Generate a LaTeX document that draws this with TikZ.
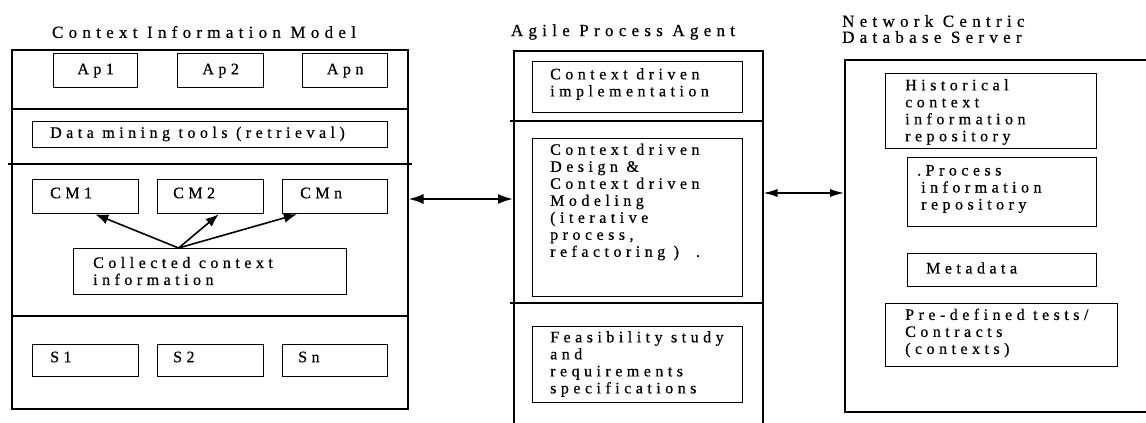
\documentclass[tikz,border=0pt]{standalone}
\usepackage{fontspec}
\setmainfont{Liberation Serif}[LetterSpace=28, FakeBold=0.6]
\newfontfamily\headfont{Liberation Serif}[LetterSpace=31, FakeBold=0.6]
\usetikzlibrary{arrows.meta,calc}

\tikzset{
  panel/.style={draw, line width=1.5pt, inner sep=0pt, anchor=north west},
  cell/.style={draw, line width=1.3pt, inner sep=0pt, anchor=north west},
  txt/.style={anchor=west, align=left, inner sep=0pt, font=\fontsize{16}{17}\selectfont},
  ctxt/.style={anchor=center, inner sep=0pt, font=\fontsize{16}{17}\selectfont},
  ttl/.style={inner sep=0pt, align=left, font=\headfont\fontsize{17}{16}\selectfont},
  divider/.style={line width=1.3pt},
  bigarrow/.style={line width=2pt, {Latex[length=15pt,width=10pt]}-{Latex[length=15pt,width=10pt]}},
  smallarrow/.style={line width=1.2pt, {Latex[length=14pt,width=8pt]}-{Latex[length=14pt,width=8pt]}},
  feed/.style={line width=1.6pt, -{Latex[length=13pt,width=10pt]}},
}

\begin{document}
\begin{tikzpicture}[x=1pt, y=-1pt]
\useasboundingbox (0,0) rectangle (1146,423);

% ---------- titles ----------
\node[ttl, anchor=center] (t1) at (204,32) {Context Information Model};
\node[ttl, anchor=center] (t2) at (623,32) {Agile Process Agent};
\node[ttl, anchor=west] (t3) at (842,29) {Network Centric\\Database Server};

% ---------- Context Information Model ----------
\node[panel, minimum width=396pt, minimum height=359pt] (cim) at (11,49) {};
\coordinate (d1) at (0,109);
\coordinate (d2) at (0,164);
\coordinate (d3) at (0,316);
\draw[divider] (cim.west |- d1) -- (cim.east |- d1);
\draw[divider] ([xshift=-3pt]cim.west |- d2) -- ([xshift=3pt]cim.east |- d2);
\draw[divider] (cim.west |- d3) -- (cim.east |- d3);

\node[cell, minimum width=84pt, minimum height=34pt] (ap1) at (53,53) {};
\node[cell, minimum width=86pt, minimum height=34pt] (ap2) at (177,53) {};
\node[cell, minimum width=85pt, minimum height=34pt] (apn) at (302,53) {};
\node[ctxt] (ap1t) at (ap1.center) {Ap1};
\node[ctxt] (ap2t) at (ap2.center) {Ap2};
\node[ctxt] (apnt) at (apn.center) {Apn};

\node[cell, minimum width=355pt, minimum height=26pt] (dm) at (32,121) {};
\node[txt] (dmt) at (50,134) {Data mining tools (retrieval)};

\node[cell, minimum width=106pt, minimum height=34pt] (cm1) at (32,179) {};
\node[cell, minimum width=106pt, minimum height=34pt] (cm2) at (157,179) {};
\node[cell, minimum width=105pt, minimum height=34pt] (cmn) at (282,179) {};
\node[txt] (cm1t) at (50,193) {CM1};
\node[txt] (cm2t) at (173,193) {CM2};
\node[txt] (cmnt) at (300,193) {CMn};

\node[cell, minimum width=273pt, minimum height=46pt] (coll) at (73,248) {};
\node[txt] (collt) at (93,271) {Collected context\\information};

\coordinate (src) at ($(coll.north west)!0.385!(coll.north east)$);
\draw[feed] (src) -- ($(cm1.south west)!0.59!(cm1.south east)$);
\draw[feed] (src) -- ($(cm2.south west)!0.575!(cm2.south east)$);
\draw[feed] (src) -- ($(cmn.south west)!0.14!(cmn.south east)$);

\node[cell, minimum width=106pt, minimum height=32pt] (s1) at (32,344) {};
\node[cell, minimum width=106pt, minimum height=32pt] (s2) at (157,344) {};
\node[cell, minimum width=105pt, minimum height=32pt] (sn) at (282,344) {};
\node[txt] (s1t) at (50,357) {S1};
\node[txt] (s2t) at (173,357) {S2};
\node[txt] (snt) at (298,357) {Sn};

% ---------- Agile Process Agent (runs off the bottom edge) ----------
\node[panel, minimum width=249pt, minimum height=400pt] (apa) at (513,50) {};
\coordinate (e1) at (0,121);
\coordinate (e2) at (0,303);
\draw[divider] ([xshift=-3pt]apa.west |- e1) -- (apa.east |- e1);
\draw[divider] ([xshift=-3pt]apa.west |- e2) -- (apa.east |- e2);

\node[cell, minimum width=210pt, minimum height=51pt] (impl) at (532,61) {};
\node[txt] (implt) at (550,84) {Context driven\\implementation};

\node[cell, minimum width=210pt, minimum height=158pt] (des) at (532,138) {};
\node[txt] (dest) at (550,202) {Context driven\\Design \&\\Context driven\\Modeling\\(iterative\\process,\\refactoring )\ \ .};

\node[cell, minimum width=210pt, minimum height=76pt] (feas) at (532,326) {};
\node[txt] (feast) at (550,364) {Feasibility study\\and\\requirements\\specifications};

% ---------- Network Centric Database Server (runs off the right edge) ----------
\node[panel, minimum width=320pt, minimum height=352pt] (ncd) at (844,59) {};

\node[cell, minimum width=211pt, minimum height=75pt] (hist) at (885,73) {};
\node[txt] (histt) at (905,112) {Historical\\context\\information\\repository};

\node[cell, minimum width=189pt, minimum height=69pt] (proc) at (907,157) {};
\node[txt] (proct) at (917,189) {.Process\\\hspace{4pt}information\\\hspace{4pt}repository};

\node[cell, minimum width=189pt, minimum height=33pt] (meta) at (907,253) {};
\node[txt] (metat) at (926,268) {Metadata};

\node[cell, minimum width=232pt, minimum height=63pt] (pre) at (885,303) {};
\node[txt] (pret) at (905,333) {Pre-defined tests/\\Contracts\\(contexts)};

% ---------- links between the three parts ----------
\coordinate (a1) at (0,199);
\coordinate (a2) at (0,193);
\draw[bigarrow] (cim.east |- a1) -- (apa.west |- a1);
\draw[smallarrow] (apa.east |- a2) -- (ncd.west |- a2);
\end{tikzpicture}
\end{document}
